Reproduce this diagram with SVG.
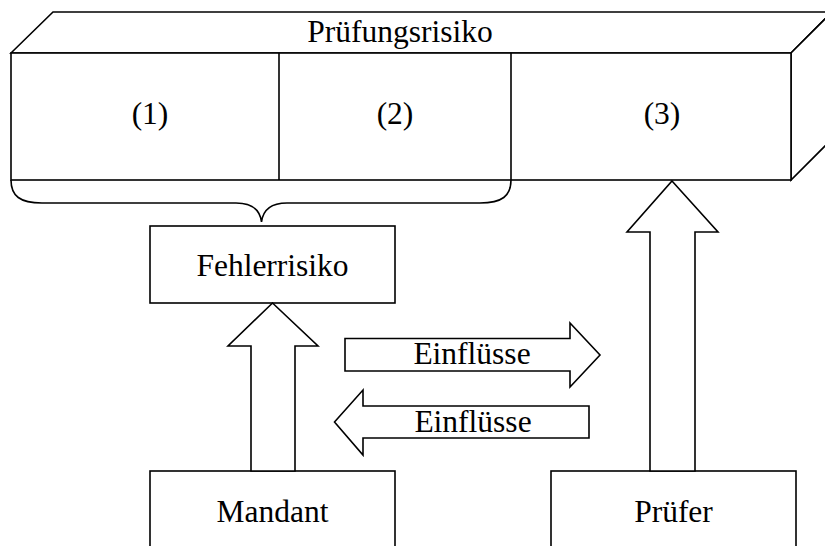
<svg xmlns="http://www.w3.org/2000/svg" width="825" height="546" viewBox="0 0 825 546">
<style>
.s{fill:#fff;stroke:#000;stroke-width:1.6;stroke-linejoin:miter}
.l{fill:none;stroke:#000;stroke-width:1.6}
text{font-family:'Liberation Serif','DejaVu Serif',serif;font-size:31.5px;fill:#000;text-anchor:middle}
</style>
<rect width="825" height="546" fill="#fff"/>
<g id="pruefungsrisiko">
<polygon class="s" points="11,53 53,12 832,12 791,53"/>
<polygon class="s" points="791,53 832,12 832,139 791,180"/>
<rect class="s" x="11" y="53" width="780" height="127"/>
<line class="l" x1="279" y1="53" x2="279" y2="180"/>
<line class="l" x1="511" y1="53" x2="511" y2="180"/>
<text x="400" y="42">Prüfungsrisiko</text>
<text x="150" y="124">(1)</text>
<text x="395" y="124">(2)</text>
<text x="662" y="124">(3)</text>
</g>
<g id="fehlerrisiko">
<rect class="s" x="150" y="226" width="245" height="77"/>
<text x="272.5" y="276">Fehlerrisiko</text>
</g>
<g id="mandant">
<rect class="s" x="150" y="471" width="245" height="90"/>
<text x="272.5" y="522">Mandant</text>
</g>
<g id="pruefer">
<rect class="s" x="551" y="471" width="245" height="90"/>
<text x="673.5" y="522">Prüfer</text>
</g>
<g id="connectors">
<path class="l" d="M11,180 C11,196 20,203 42,203 L236,203 C252,203 260,210 261.5,222 C263,210 271,203 287,203 L480,203 C502,203 511,196 511,180"/>
<polygon class="s" points="272.5,303 318,346 295,346 295,471 251,471 251,346 228,346"/>
<polygon class="s" points="672,181 718,232 695,232 695,471 650,471 650,232 627,232"/>
<polygon class="s" points="345,338.5 570,338.5 570,323 600,355 570,387 570,371 345,371"/>
<polygon class="s" points="334.5,422 363,390 363,406 589,406 589,438 363,438 363,455"/>
<text x="472" y="364">Einflüsse</text>
<text x="473" y="432">Einflüsse</text>
</g>
</svg>
